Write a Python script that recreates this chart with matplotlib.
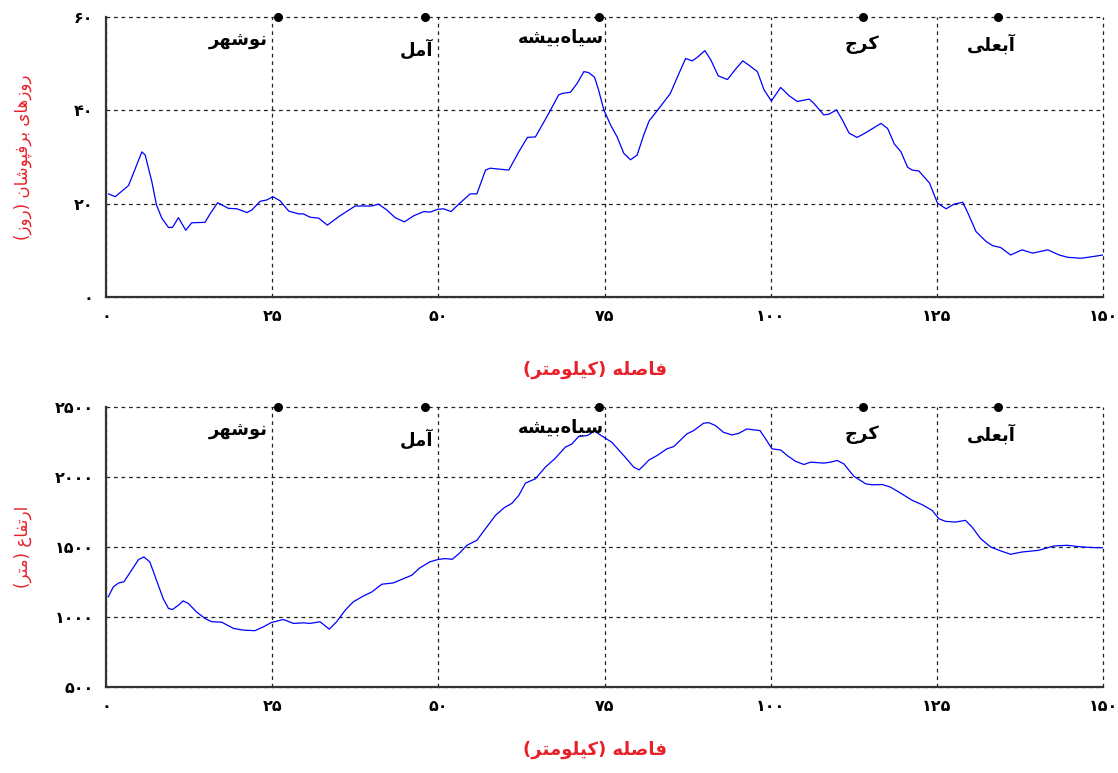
import numpy as np
import matplotlib
matplotlib.use("Agg")
import matplotlib.pyplot as plt
from matplotlib import font_manager
from matplotlib.ft2font import FT2Font

# --- data -------------------------------------------------------------
snow_km = [0.35, 1.4, 3.4, 5.4, 5.9, 6.9, 7.6, 8.4, 9.4, 10.0, 10.9, 12.0, 12.9,
           14.9, 15.7, 16.8, 18.4, 19.7, 21.2, 21.9, 23.2, 24.2, 25.1, 26.2,
           27.5, 29.0, 29.7, 30.7, 32.0, 33.3, 35.2, 37.5, 40.0, 41.0, 42.3,
           43.5, 44.9, 46.3, 47.8, 48.8, 49.9, 50.8, 51.9, 53.3, 54.8, 55.8,
           57.1, 57.8, 60.6, 62.1, 63.4, 64.6, 66.4, 68.1, 68.6, 69.9, 70.9,
           71.9, 72.6, 73.5, 74.1, 74.9, 75.9, 76.9, 77.9, 78.9, 79.9, 80.9,
           81.7, 83.4, 84.9, 86.2, 87.2, 88.2, 89.0, 90.1, 91.0, 92.1, 93.5,
           94.7, 95.8, 96.7, 98.0, 99.0, 100.1, 101.5, 102.8, 104.0, 105.8,
           106.5, 108.0, 108.8, 109.9, 110.8, 111.8, 113.0, 114.3, 116.6,
           117.6, 118.6, 119.6, 120.6, 121.3, 122.3, 123.9, 125.1, 126.4,
           127.6, 128.9, 129.7, 130.9, 132.4, 133.4, 134.6, 136.1, 137.8,
           139.4, 141.7, 143.4, 144.7, 146.7, 148.2, 150.0]
snow_days = [22.1, 21.5, 23.9, 31.1, 30.4, 24.7, 19.7, 16.9, 14.9, 14.9, 17.0,
             14.3, 15.9, 16.0, 17.9, 20.2, 19.0, 18.9, 18.1, 18.6, 20.5, 20.8,
             21.5, 20.6, 18.4, 17.8, 17.8, 17.1, 16.9, 15.4, 17.4, 19.5, 19.5,
             19.9, 18.6, 17.0, 16.1, 17.4, 18.3, 18.2, 18.8, 18.9, 18.3, 20.2,
             22.1, 22.1, 27.2, 27.6, 27.2, 31.1, 34.2, 34.3, 38.8, 43.3, 43.6,
             43.9, 45.8, 48.3, 48.1, 47.1, 44.4, 40.1, 36.9, 34.3, 30.8, 29.4,
             30.4, 34.7, 37.7, 40.8, 43.6, 47.9, 51.1, 50.6, 51.4, 52.8, 50.8,
             47.4, 46.6, 48.8, 50.6, 49.7, 48.3, 44.4, 42.0, 44.9, 43.1, 41.9,
             42.4, 41.5, 39.0, 39.2, 40.1, 37.9, 35.1, 34.2, 35.2, 37.2, 36.1,
             32.8, 31.1, 27.8, 27.2, 27.0, 24.4, 20.1, 18.9, 19.9, 20.3, 17.9,
             14.0, 11.9, 11.0, 10.6, 9.0, 10.1, 9.4, 10.1, 9.0, 8.5, 8.3, 8.6,
             9.0]

elev_km = [0.35, 1.1, 1.9, 2.7, 3.9, 4.9, 5.7, 6.6, 7.6, 8.6, 9.4, 10.0, 10.9,
           11.6, 12.4, 13.6, 14.9, 15.9, 17.4, 19.2, 20.7, 22.4, 23.7, 24.9,
           26.7, 28.2, 29.7, 30.7, 32.2, 33.6, 34.7, 36.0, 37.2, 38.7, 40.0,
           41.5, 43.2, 46.0, 47.2, 48.7, 49.9, 51.0, 52.1, 53.1, 54.3, 55.8,
           57.1, 58.6, 59.9, 61.1, 62.1, 63.1, 64.6, 66.1, 67.6, 69.1, 70.1,
           71.1, 72.4, 73.5, 74.9, 76.1, 77.9, 79.4, 80.2, 80.9, 81.7, 82.9,
           84.4, 85.4, 86.2, 87.4, 88.4, 89.9, 90.7, 91.7, 92.9, 94.2, 95.2,
           96.4, 98.4, 99.4, 100.2, 101.5, 102.5, 103.7, 105.0, 106.0, 108.0,
           109.0, 110.0, 111.0, 112.5, 114.3, 115.3, 116.8, 118.0, 119.3,
           121.3, 122.8, 124.3, 125.3, 126.3, 127.8, 129.3, 130.3, 131.6,
           133.1, 134.6, 136.1, 137.8, 140.3, 142.6, 144.6, 146.9, 148.9, 150.0]
elevation = [1144, 1215, 1243, 1251, 1338, 1410, 1429, 1393, 1262, 1132, 1061,
             1053, 1084, 1115, 1096, 1037, 989, 966, 963, 918, 906, 902, 930,
             961, 982, 954, 958, 954, 966, 913, 966, 1049, 1108, 1149, 1179,
             1234, 1243, 1298, 1350, 1393, 1410, 1417, 1412, 1452, 1512, 1548,
             1631, 1726, 1780, 1813, 1868, 1956, 1987, 2070, 2134, 2213, 2236,
             2289, 2296, 2327, 2284, 2248, 2153, 2070, 2051, 2082, 2122, 2153,
             2201, 2217, 2253, 2308, 2331, 2384, 2388, 2367, 2319, 2300, 2312,
             2343, 2331, 2260, 2201, 2193, 2153, 2113, 2089, 2106, 2099, 2106,
             2118, 2094, 2006, 1951, 1944, 1946, 1928, 1892, 1833, 1802, 1761,
             1702, 1683, 1678, 1690, 1642, 1559, 1500, 1472, 1448, 1464, 1476,
             1507, 1512, 1500, 1495, 1495]

cities = ["نوشهر", "آمل", "سیاه‌بیشه", "کرج", "آبعلی"]
city_km = [25.9, 48.0, 74.1, 113.9, 134.2]

x_ticks = [0, 25, 50, 75, 100, 125, 150]
snow_ticks = [0, 20, 40, 60]
elev_ticks = [500, 1000, 1500, 2000, 2500]

snow_ylabel = "روزهای برفپوشان (روز)"
elev_ylabel = "ارتفاع (متر)"
x_label = "فاصله (کیلومتر)"

# label offsets from the city dot, in pixels (dx of right edge, dy of centre)
label_off = [(-10, -23), (8, -32), (5, -21), (16, -28), (18, -28)]

# --- simple persian shaping (matplotlib has no bidi / shaping) -------
FORMS = {
    "ا": ("\uFE8D", "\uFE8E", None, None),
    "آ": ("\uFE81", "\uFE82", None, None),
    "ب": ("\uFE8F", "\uFE90", "\uFE91", "\uFE92"),
    "پ": ("\uFB56", "\uFB57", "\uFB58", "\uFB59"),
    "ت": ("\uFE95", "\uFE96", "\uFE97", "\uFE98"),
    "ج": ("\uFE9D", "\uFE9E", "\uFE9F", "\uFEA0"),
    "ر": ("\uFEAD", "\uFEAE", None, None),
    "ز": ("\uFEAF", "\uFEB0", None, None),
    "س": ("\uFEB1", "\uFEB2", "\uFEB3", "\uFEB4"),
    "ش": ("\uFEB5", "\uFEB6", "\uFEB7", "\uFEB8"),
    "ص": ("\uFEB9", "\uFEBA", "\uFEBB", "\uFEBC"),
    "ع": ("\uFEC9", "\uFECA", "\uFECB", "\uFECC"),
    "ف": ("\uFED1", "\uFED2", "\uFED3", "\uFED4"),
    "ک": ("\uFB8E", "\uFB8F", "\uFB90", "\uFB91"),
    "ل": ("\uFEDD", "\uFEDE", "\uFEDF", "\uFEE0"),
    "م": ("\uFEE1", "\uFEE2", "\uFEE3", "\uFEE4"),
    "ن": ("\uFEE5", "\uFEE6", "\uFEE7", "\uFEE8"),
    "ه": ("\uFEE9", "\uFEEA", "\uFEEB", "\uFEEC"),
    "و": ("\uFEED", "\uFEEE", None, None),
    "ی": ("\uFBFC", "\uFBFD", "\uFBFE", "\uFBFF"),
}

font_path = font_manager.findfont(font_manager.FontProperties(family="DejaVu Sans", weight="bold"))
charmap = FT2Font(font_path).get_charmap()


def shape(s):
    out = []
    for i, c in enumerate(s):
        if c not in FORMS:
            if c != "\u200c":
                out.append(c)
            continue
        prev = s[i - 1] if i > 0 else ""
        nxt = s[i + 1] if i + 1 < len(s) else ""
        jp = prev in FORMS and FORMS[prev][2] is not None
        jn = nxt in FORMS and FORMS[c][2] is not None
        if jp and jn:
            g = FORMS[c][3]
        elif jp:
            g = FORMS[c][1]
        elif jn:
            g = FORMS[c][2]
        else:
            g = FORMS[c][0]
        out.append(g if ord(g) in charmap else c)
    vis = "".join(reversed(out))
    return vis.translate(str.maketrans("()", ")("))


def fa(n):
    return str(n).translate(str.maketrans("0123456789", "۰۱۲۳۴۵۶۷۸۹"))


plt.rcParams["font.family"] = ["DejaVu Sans"]
red = "#e8202a"

fig = plt.figure(figsize=(11.18, 7.73), dpi=100)
ax1 = fig.add_axes([0.0948, 0.6158, 0.8918, 0.3622])
ax2 = fig.add_axes([0.0948, 0.1113, 0.8918, 0.3622])


def style(ax, yticks):
    ax.set_xlim(0, 150)
    ax.set_ylim(yticks[0], yticks[-1])
    ax.set_xticks(x_ticks)
    ax.set_xticklabels([fa(t) for t in x_ticks], fontsize=11.5, fontweight="bold")
    ax.set_yticks(yticks)
    ax.set_yticklabels([fa(t) for t in yticks], fontsize=11.5, fontweight="bold")
    ax.tick_params(length=0, pad=9)
    ax.grid(True, color="#222222", linestyle=(0, (3, 3)), linewidth=0.9)
    for ln in ax.get_xgridlines() + ax.get_ygridlines():
        ln.set_clip_on(False)
    for side in ["top", "right"]:
        ax.spines[side].set_visible(False)
    for side in ["left", "bottom"]:
        ax.spines[side].set_linewidth(1.6)
        ax.spines[side].set_color("#333333")
    ymax = yticks[-1]
    ax.scatter(city_km, [ymax] * len(city_km), s=30, color="black", clip_on=False, zorder=5)
    for name, km, (dx, dy) in zip(cities, city_km, label_off):
        ax.annotate(shape(name), (km, ymax), xytext=(dx * 0.72, dy * 0.72),
                    textcoords="offset points", ha="right", va="center",
                    fontsize=13, fontweight="bold", color="black")


style(ax1, snow_ticks)
ax1.plot(snow_km, snow_days, color="#0000ff", linewidth=0.9)

style(ax2, elev_ticks)
ax2.plot(elev_km, elevation, color="#0000ff", linewidth=0.9)

fig.text(0.532, 1 - 370 / 773, shape(x_label), color=red, fontsize=13,
         fontweight="bold", ha="center", va="center")
fig.text(0.532, 1 - 750 / 773, shape(x_label), color=red, fontsize=13,
         fontweight="bold", ha="center", va="center")
fig.text(0.02, 1 - 157 / 773, shape(snow_ylabel), color=red, fontsize=12,
         rotation=90, ha="center", va="center")
fig.text(0.02, 1 - 547 / 773, shape(elev_ylabel), color=red, fontsize=12,
         rotation=90, ha="center", va="center")

fig.savefig("out.png", dpi=100)
